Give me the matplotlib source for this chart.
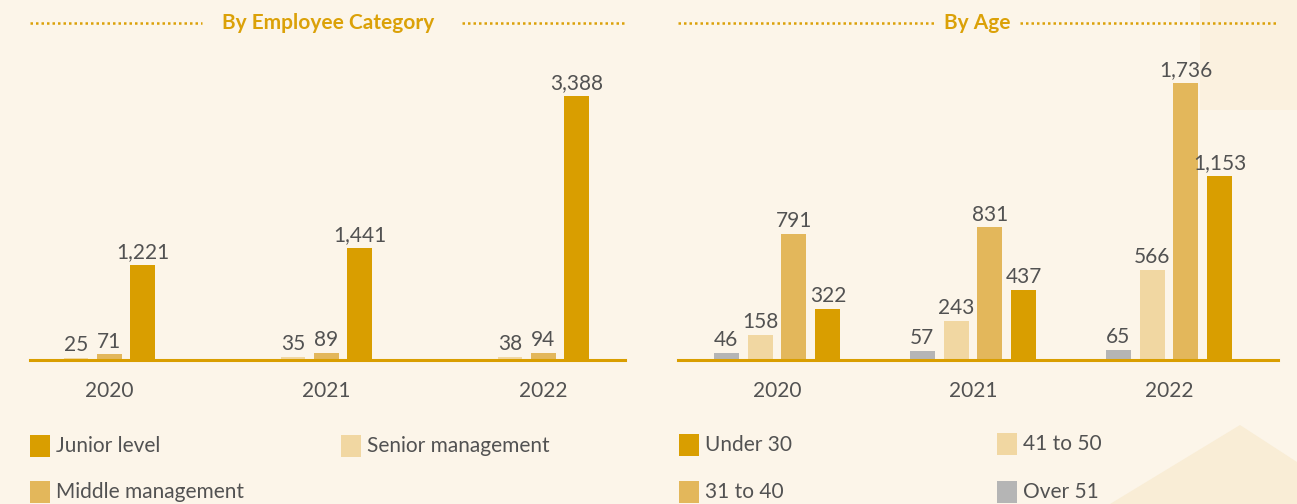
import matplotlib.pyplot as plt
from matplotlib.patches import Rectangle, Polygon
from matplotlib.lines import Line2D
import numpy as np

# Datos
years = ['2020', '2021', '2022']

cat_names = ['Senior management', 'Middle management', 'Junior level']
senior = [25, 35, 38]
middle = [71, 89, 94]
junior = [1221, 1441, 3388]

age_names = ['Over 51', '41 to 50', '31 to 40', 'Under 30']
over51 = [46, 57, 65]
age41_50 = [158, 243, 566]
age31_40 = [791, 831, 1736]
under30 = [322, 437, 1153]

# Colores
bg = '#FCF5E9'
dark = '#D99E00'
mid = '#E3B75B'
light = '#F1D7A2'
grey = '#B5B5B5'
gold_title = '#DBA108'
txt = '#525252'

plt.rcParams['font.family'] = ['Lato', 'DejaVu Sans']

W, H = 1297, 504
fig = plt.figure(figsize=(W / 100, H / 100), dpi=100, facecolor=bg)

# Fondo decorativo (detrás de todo)
fig.patches.append(Polygon([[1110 / W, 0], [1240 / W, 1 - 425 / H], [1297 / W, 1 - 462 / H], [1297 / W, 0]],
                           closed=True, transform=fig.transFigure, facecolor='#F9EDD6', edgecolor='none', zorder=-5))
fig.patches.append(Rectangle((1200 / W, 1 - 110 / H), 97 / W, 110 / H, transform=fig.transFigure,
                             facecolor='#FBF1DF', edgecolor='none', zorder=-5))


def style_axis(ax, xlim, ymax):
    ax.set_facecolor('none')
    ax.set_xlim(*xlim)
    ax.set_ylim(0, ymax)
    for s in ['top', 'right', 'left']:
        ax.spines[s].set_visible(False)
    ax.spines['bottom'].set_color(dark)
    ax.spines['bottom'].set_linewidth(2.2)
    ax.set_yticks([])
    ax.set_xticks(range(len(years)))
    ax.set_xticklabels(years, fontsize=15, color=txt)
    ax.tick_params(axis='x', length=0, pad=15)


def draw_bars(ax, series, colors, width, step):
    x = np.arange(len(years))
    n = len(series)
    for i, (vals, c) in enumerate(zip(series, colors)):
        off = (i - (n - 1) / 2) * step
        bars = ax.bar(x + off, vals, width, color=c, zorder=2)
        lbls = ax.bar_label(bars, labels=[f'{v:,}' for v in vals], padding=2,
                            fontsize=15, color=txt)
        for t in lbls:
            t.set_clip_on(False)


# Panel izquierdo: por categoría
ax1 = fig.add_axes([30 / W, (H - 360) / H, 595 / W, 300 / H])
style_axis(ax1, (-0.366, 2.376), 3850)
draw_bars(ax1, [senior, middle, junior], [light, mid, dark], 0.115, 0.154)

# Panel derecho: por edad
ax2 = fig.add_axes([678 / W, (H - 360) / H, 600 / W, 300 / H])
style_axis(ax2, (-0.505, 2.556), 1880)
draw_bars(ax2, [over51, age41_50, age31_40, under30], [grey, light, mid, dark], 0.1276, 0.173)


# Títulos con líneas punteadas
def title(cx, text, x0, x1, t0, t1):
    y = 1 - 23 / H
    fig.text(cx / W, y, text, ha='center', va='center', fontsize=15, fontweight='bold', color=gold_title)
    for a, b in [(x0, t0), (t1, x1)]:
        fig.add_artist(Line2D([a / W, b / W], [y, y], transform=fig.transFigure,
                              color=gold_title, linestyle=(0, (1, 1.2)), linewidth=1.8))


title(328, 'By Employee Category', 30, 626, 202, 462)
title(977, 'By Age', 678, 1278, 934, 1020)


# Leyendas
def legend_item(x, y, color, label):
    fig.patches.append(Rectangle((x / W, 1 - (y + 11) / H), 20 / W, 22 / H, transform=fig.transFigure,
                                 facecolor=color, edgecolor='none'))
    fig.text((x + 26) / W, 1 - y / H, label, ha='left', va='center', fontsize=15, color=txt)


legend_item(30, 446, dark, 'Junior level')
legend_item(341, 446, light, 'Senior management')
legend_item(30, 492, mid, 'Middle management')
legend_item(679, 445, dark, 'Under 30')
legend_item(997, 444, light, '41 to 50')
legend_item(679, 492, mid, '31 to 40')
legend_item(997, 492, grey, 'Over 51')

fig.savefig('out.png', dpi=100, facecolor=bg)
